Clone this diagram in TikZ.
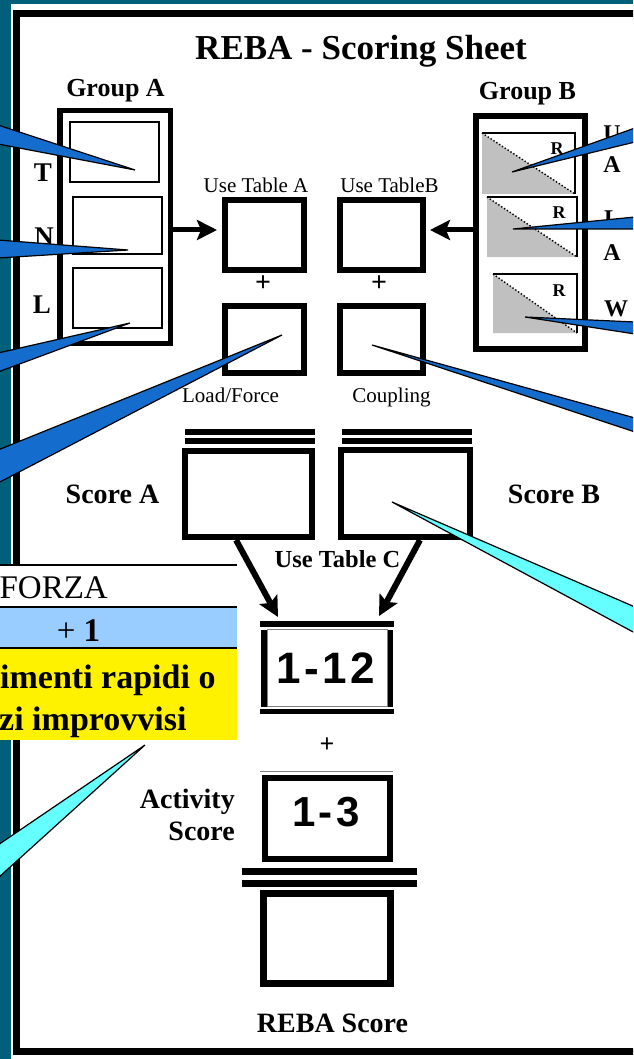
\documentclass[tikz,border=0pt]{standalone}
\usepackage{fontspec}
\setmainfont{Liberation Serif}
\newfontfamily\numfont[LetterSpace=8]{Liberation Sans}
\usetikzlibrary{arrows.meta}

\definecolor{sheetteal}{RGB}{0,96,122}
\definecolor{calloutblue}{RGB}{20,108,204}
\definecolor{calloutcyan}{RGB}{102,255,255}
\definecolor{rowblue}{RGB}{153,204,255}
\definecolor{greyfill}{RGB}{192,192,192}
\newcommand{\setfs}[1]{\fontsize{#1}{#1}\selectfont}

\begin{document}
\begin{tikzpicture}[x=1pt,y=-1pt,
    scorebox/.style={draw, line width=6pt, inner sep=0pt},
    thinbox/.style={draw, line width=1.6pt, inner sep=0pt},
    boldtxt/.style={inner sep=0pt, anchor=base, font=\bfseries\setfs{#1}},
    plaintxt/.style={inner sep=0pt, anchor=base, font=\setfs{#1}},
    plus/.style={inner sep=0pt, font=\bfseries\setfs{#1}},
    digits/.style={inner sep=0pt, font=\numfont\bfseries\setfs{#1}},
    fatarrow/.style={line width=5pt, -{Stealth[length=20pt,width=20pt,inset=4pt]}},
    callout/.style={draw, line width=1.2pt, fill=calloutblue, line join=miter},
    cyancall/.style={callout, fill=calloutcyan}]

    % Background and sheet
    \useasboundingbox (0,0) rectangle (633,1059);
    \clip (0,0) rectangle (633,1059);
    \fill[sheetteal] (0,0) rectangle (633,1059);
    \fill[white] (11,4) rectangle (640,1065);
    \draw[line width=7pt] (16.5,13.5) rectangle (650,1051);

    % Title
    \node[boldtxt=35] (title) at (361,60) {REBA - Scoring Sheet};

    % Group A
    \node[boldtxt=26] (grpAlbl) at (115.5,97) {Group A};
    \node[scorebox, line width=5.5pt, minimum width=110.5pt, minimum height=232.5pt] (groupA) at (115,227) {};
    \node[thinbox, minimum width=89pt, minimum height=60pt] (trunk) at (114.5,152) {};
    \node[thinbox, minimum width=89pt, minimum height=57pt] (neck) at (117.5,225.5) {};
    \node[thinbox, minimum width=89pt, minimum height=60pt] (legs) at (117.5,298) {};
    \node[boldtxt=27] (tlbl) at (43,182) {T};
    \node[boldtxt=27] (nlbl) at (44,245) {N};
    \node[boldtxt=27] (llbl) at (42,313) {L};

    % Group B
    \node[boldtxt=26] (grpBlbl) at (527.5,100) {Group B};
    \node[scorebox, minimum width=109pt, minimum height=233pt] (groupB) at (530.5,232.5) {};
    \foreach \l/\t/\r/\b in {482/133/575/194, 487/197/577/257, 493/274/577/333}{
        \fill[greyfill] (\l,\t) -- (\l,\b) -- (\r,\b) -- cycle;
        \draw[line width=1.4pt] (\l,\t) -- (\r,\t) -- (\r,\b);
        \draw[line width=1.4pt, dotted] (\l,\t) -- (\r,\b);
        \node[boldtxt=18] (rb-\t) at (\r-18,\t+22) {R};
    }
    \node[boldtxt=24] (ualbl) at (612,142) {U};
    \node[boldtxt=24] (aalbl) at (612,173) {A};
    \node[boldtxt=24] (lalbl) at (612,227) {L};
    \node[boldtxt=24] (aalbl2) at (612,261) {A};
    \node[boldtxt=24] (wlbl) at (616,316) {W};

    % Tables A and B
    \node[scorebox, minimum width=79pt, minimum height=70pt] (tabA) at (264.5,235) {};
    \node[scorebox, minimum width=83pt, minimum height=70pt] (tabB) at (381.5,235) {};
    \node[scorebox, minimum width=79pt, minimum height=67pt] (load) at (264.5,339.5) {};
    \node[scorebox, minimum width=83pt, minimum height=67pt] (coupling) at (381.5,339.5) {};
    \node[plaintxt=21] (tabAlbl) at (256,193) {Use Table A};
    \node[plaintxt=21] (tabBlbl) at (389.5,193) {Use TableB};
    \node[plaintxt=21] (loadlbl) at (230.5,402) {Load/Force};
    \node[plaintxt=21] (couplbl) at (391.5,402) {Coupling};
    \node[plus=28] (plusA) at (263,284) {+};
    \node[plus=28] (plusB) at (379,284) {+};

    \draw[fatarrow] ([yshift=-3pt]groupA.east) -- ([xshift=-5pt,yshift=5pt]tabA.west);
    \draw[fatarrow] ([yshift=2.5pt]groupB.west) -- ([xshift=4pt,yshift=5pt]tabB.east);

    % Scores A and B
    \fill (185,429) rectangle (315,435);
    \fill (185,438) rectangle (315,444);
    \fill (342,429) rectangle (472,435);
    \fill (342,438) rectangle (472,444);
    \node[scorebox, minimum width=127pt, minimum height=86pt] (scoreA) at (248.5,494) {};
    \node[scorebox, minimum width=129pt, minimum height=87pt] (scoreB) at (405.5,493.5) {};
    \node[boldtxt=28] (sAlbl) at (112.5,503) {Score A};
    \node[boldtxt=28] (sBlbl) at (554,503) {Score B};
    \node[boldtxt=24.5] (tabClbl) at (337.5,567) {Use Table C};

    % Table C score
    \fill (260,621) rectangle (394,627);
    \fill (261,630) rectangle (267,707);
    \fill (387,630) rectangle (393,707);
    \fill (260,709) rectangle (394,714);
    \draw[gray, line width=0.8pt] (267,629) rectangle (387,706);
    \node[digits=44] (total) at (326,668.5) {1-12};
    \coordinate (inL) at (278,617);
    \coordinate (inR) at (379,616);
    \draw[fatarrow, line width=6pt] ([xshift=-12.5pt]scoreA.south) -- (inL);
    \draw[fatarrow, line width=6pt] ([xshift=14.5pt]scoreB.south) -- (inR);
    \node[plus=26] (plusC) at (327,745) {+};

    % Activity
    \draw[gray, line width=1pt] (260,771) -- (393,771);
    \node[scorebox, minimum width=125.5pt, minimum height=81.5pt] (actbox) at (327.25,818.25) {};
    \node[digits=42] (activity) at (326,812.5) {1-3};
    \node[boldtxt=28, anchor=base east] (actlbl) at (235,808) {Activity};
    \node[boldtxt=28, anchor=base east] (actlbl2) at (235,840) {Score};
    \fill (242,868) rectangle (417,875);
    \fill (242,880) rectangle (417,887);

    % REBA score
    \node[scorebox, line width=7pt, minimum width=127pt, minimum height=90pt] (reba) at (327,938.5) {};
    \node[boldtxt=28] (rebalbl) at (332.5,1032) {REBA Score};

    % Force table
    \fill[white] (0,565) rectangle (237,607);
    \fill[rowblue] (0,607) rectangle (237,648);
    \fill[yellow] (0,648) rectangle (237,740);
    \draw[line width=2pt] (0,565) -- (237,565) (0,607) -- (237,607) (0,648) -- (237,648);
    \node[plaintxt=33, anchor=base east] (forza) at (108,598) {FORZA};
    \node[plaintxt=33] (plusone) at (78.5,641) {+ \textbf{1}};
    \node[boldtxt=34, anchor=base west] (yel1) at (0,688) {imenti rapidi o};
    \node[boldtxt=34, anchor=base west] (yel2) at (-1,730) {zi improvvisi};

    % Callouts
    \foreach \ex/\ya/\tx/\ty/\yb in {-2/125/135/170/144, -2/240/128/250/258,
        -2/353/130/323/372, -2/450/282/335/483, 635/128/512/172/142,
        635/217/513/229/229, 635/322/525/317/334, 635/418/372/345/432}{
        \draw[callout] (\ex,\ya) -- (\tx,\ty) -- (\ex,\yb) -- cycle;
    }
    \draw[cyancall] (635,607) -- (392,502) -- (635,633) -- cycle;
    \draw[cyancall] (-2,845) -- (145,745) -- (-2,878) -- cycle;

\end{tikzpicture}
\end{document}
